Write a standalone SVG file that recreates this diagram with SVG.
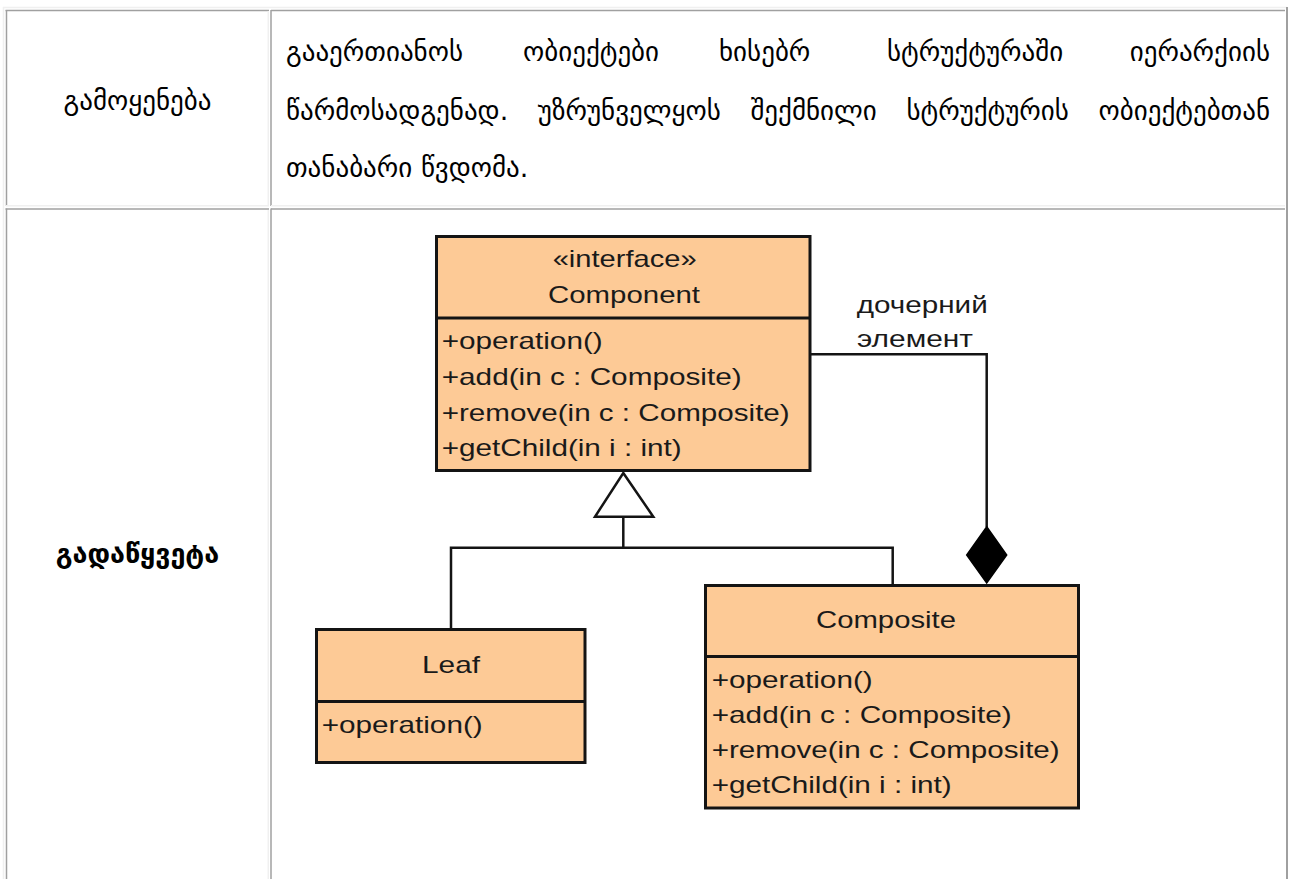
<svg xmlns="http://www.w3.org/2000/svg" width="1293" height="879" viewBox="0 0 1293 879">
  <defs>
    <style>
      .geo { font-family: "DejaVu Sans", "Noto Sans", sans-serif; font-size: 27px; fill: #000; }
      .geo-b { font-weight: bold; }
      .uml { font-family: "Liberation Sans", Arial, sans-serif; font-size: 24px; fill: #1a1a1a; }
      .box { fill: #fdca96; stroke: #141414; stroke-width: 3; }
      .sep { stroke: #141414; stroke-width: 3; }
      .edge { fill: none; stroke: #141414; stroke-width: 2.5; }
      .dark { stroke: #a0a0a0; stroke-width: 1.5; }
      .light { stroke: #f0f0f0; stroke-width: 1.5; }
    </style>
  </defs>

  <rect width="1293" height="879" fill="#fff"/>

  <!-- table frame (outset) and cell borders (inset) -->
  <g id="table">
    <line class="light" x1="3" y1="7.5" x2="1287" y2="7.5"/>
    <line class="light" x1="3.5" y1="7" x2="3.5" y2="879"/>
    <line x1="1287" y1="7" x2="1287" y2="879" stroke="#a0a0a0" stroke-width="2"/>
    <!-- row 1 -->
    <line class="dark" x1="5.5" y1="10.5" x2="269" y2="10.5"/>
    <line class="dark" x1="6.5" y1="10" x2="6.5" y2="206"/>
    <line class="light" x1="268.3" y1="11" x2="268.3" y2="206"/>
    <line class="light" x1="6" y1="205.7" x2="269" y2="205.7"/>
    <line class="dark" x1="271" y1="10.5" x2="1285" y2="10.5"/>
    <line class="dark" x1="271" y1="10" x2="271" y2="206"/>
    <line class="light" x1="271" y1="205.7" x2="1285" y2="205.7"/>
    <!-- row 2 -->
    <line class="dark" x1="5.5" y1="209" x2="269" y2="209"/>
    <line class="dark" x1="6.5" y1="208.5" x2="6.5" y2="879"/>
    <line class="light" x1="268.3" y1="210" x2="268.3" y2="879"/>
    <line class="dark" x1="271" y1="209" x2="1285" y2="209"/>
    <line class="dark" x1="271" y1="208.5" x2="271" y2="879"/>
  </g>

  <!-- cell texts -->
  <g id="cell-usage">
    <text class="geo" x="137.5" y="110" text-anchor="middle">გამოყენება</text>
  </g>
  <g id="cell-usage-text">
    <text class="geo" x="286" y="61">გააერთიანოს</text>
    <text class="geo" x="523" y="61">ობიექტები</text>
    <text class="geo" x="719" y="61">ხისებრ</text>
    <text class="geo" x="887" y="61">სტრუქტურაში</text>
    <text class="geo" x="1270" y="61" text-anchor="end">იერარქიის</text>
    <text class="geo" x="286" y="120" style="word-spacing:21px">წარმოსადგენად. უზრუნველყოს შექმნილი სტრუქტურის ობიექტებთან</text>
    <text class="geo" x="286" y="177">თანაბარი წვდომა.</text>
  </g>
  <g id="cell-solution">
    <text class="geo geo-b" x="137.5" y="563" text-anchor="middle">გადაწყვეტა</text>
  </g>

  <!-- connectors -->
  <g id="connectors">
    <!-- composition: Composite holds child Components -->
    <polyline class="edge" points="811,354.3 986.7,354.3 986.7,527"/>
    <polygon points="986.7,526.7 1006.7,555 986.7,583 966.7,555" fill="#000" stroke="#000" stroke-width="1.5"/>
    <!-- generalization: Leaf and Composite realize Component -->
    <polyline class="edge" points="451,629 451,547.7 892.7,547.7 892.7,584"/>
    <line class="edge" x1="623.3" y1="516.7" x2="623.3" y2="547.7"/>
    <polygon class="edge" points="623.3,473 653.3,516.7 595,516.7" style="fill:#fff"/>
    <text class="uml" x="856.7" y="313" textLength="131" lengthAdjust="spacingAndGlyphs">дочерний</text>
    <text class="uml" x="857" y="347" textLength="116" lengthAdjust="spacingAndGlyphs">элемент</text>
  </g>

  <!-- Component -->
  <g id="component">
    <rect class="box" x="436.5" y="236.5" width="373.5" height="234"/>
    <line class="sep" x1="436.5" y1="318" x2="810" y2="318"/>
    <text class="uml" x="624.7" y="267" text-anchor="middle" textLength="144" lengthAdjust="spacingAndGlyphs">«interface»</text>
    <text class="uml" x="624" y="303" text-anchor="middle" textLength="152" lengthAdjust="spacingAndGlyphs">Component</text>
    <text class="uml" x="441.7" y="349" textLength="161" lengthAdjust="spacingAndGlyphs">+operation()</text>
    <text class="uml" x="441.7" y="385" textLength="300" lengthAdjust="spacingAndGlyphs">+add(in c : Composite)</text>
    <text class="uml" x="441.7" y="420.5" textLength="348" lengthAdjust="spacingAndGlyphs">+remove(in c : Composite)</text>
    <text class="uml" x="441.7" y="456" textLength="240" lengthAdjust="spacingAndGlyphs">+getChild(in i : int)</text>
  </g>

  <!-- Leaf -->
  <g id="leaf">
    <rect class="box" x="316.5" y="629.5" width="268.5" height="133"/>
    <line class="sep" x1="316.5" y1="701.5" x2="585" y2="701.5"/>
    <text class="uml" x="451" y="673" text-anchor="middle" textLength="58" lengthAdjust="spacingAndGlyphs">Leaf</text>
    <text class="uml" x="321.7" y="732.5" textLength="161" lengthAdjust="spacingAndGlyphs">+operation()</text>
  </g>

  <!-- Composite -->
  <g id="composite">
    <rect class="box" x="705.5" y="585.5" width="373" height="222.5"/>
    <line class="sep" x1="705.5" y1="656.5" x2="1078.5" y2="656.5"/>
    <text class="uml" x="886" y="628" text-anchor="middle" textLength="140" lengthAdjust="spacingAndGlyphs">Composite</text>
    <text class="uml" x="711.7" y="688" textLength="161" lengthAdjust="spacingAndGlyphs">+operation()</text>
    <text class="uml" x="711.7" y="723" textLength="300" lengthAdjust="spacingAndGlyphs">+add(in c : Composite)</text>
    <text class="uml" x="711.7" y="758" textLength="348" lengthAdjust="spacingAndGlyphs">+remove(in c : Composite)</text>
    <text class="uml" x="711.7" y="793" textLength="240" lengthAdjust="spacingAndGlyphs">+getChild(in i : int)</text>
  </g>
</svg>
